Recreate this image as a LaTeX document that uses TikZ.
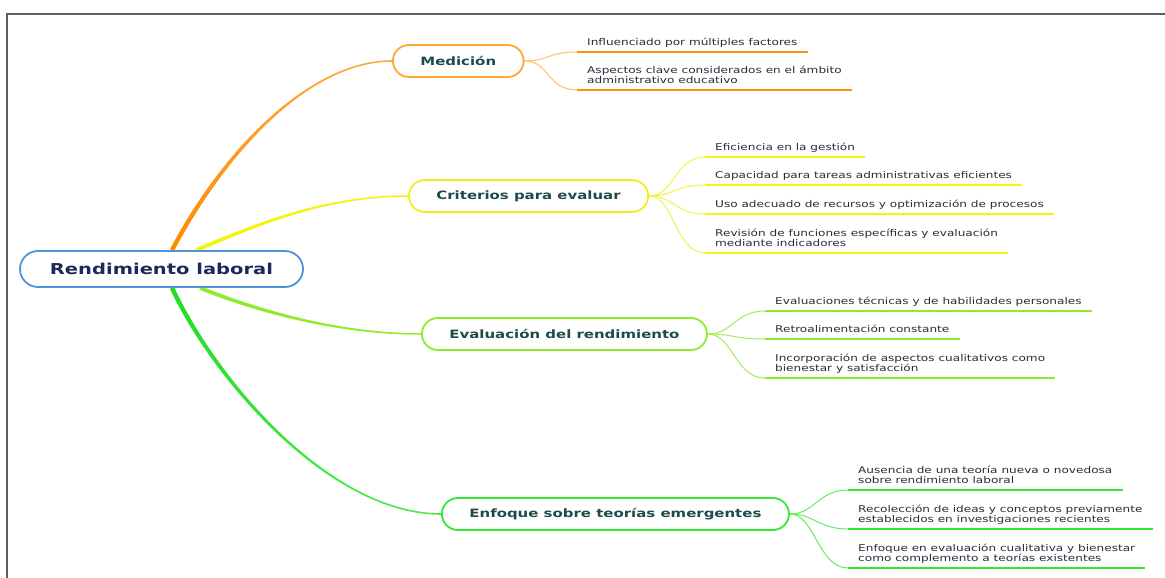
\documentclass[tikz,border=0pt]{standalone}
\usepackage{fontspec}
\setmainfont{DejaVu Sans}
\usepackage{graphicx}
\usetikzlibrary{calc}
\pgfdeclarelayer{bg}
\pgfsetlayers{bg,main}

\definecolor{frameGray}{HTML}{5F5F5F}
\definecolor{rootBlue}{HTML}{4D94D6}
\definecolor{rootInk}{HTML}{1B2A5C}
\definecolor{topicInk}{HTML}{1E4A4A}
\definecolor{leafInk}{HTML}{2C2A38}
\definecolor{orDeep}{HTML}{FF8A00}
\definecolor{orPale}{HTML}{FFA942}
\definecolor{orEdge}{HTML}{FFA733}
\definecolor{orTwig}{HTML}{FFBE62}
\definecolor{yeMain}{HTML}{F4F410}
\definecolor{yeEdge}{HTML}{F0F020}
\definecolor{yeTwig}{HTML}{F2F24A}
\definecolor{liMain}{HTML}{8EEB2E}
\definecolor{liTwig}{HTML}{A2EF55}
\definecolor{grDeep}{HTML}{22DD22}
\definecolor{grPale}{HTML}{48EA48}
\definecolor{grMain}{HTML}{36E836}
\definecolor{grTwig}{HTML}{62EE62}

% horizontally widened lettering
\newcommand\wide[1]{\scalebox{1.3}[1]{#1}}
\newcommand\twolines[2]{\wide{\begin{tabular}[b]{@{}l@{}}#1\\#2\end{tabular}}}

% tapered main branch: #1 paint, #2 start, #3 ctrl 1, #4 ctrl 2, #5 end,
% #6 half-width vector at the start, #7 half-width vector at the end
\newcommand\limb[7]{%
  \path[#1] ($(#2)-(#6)$) .. controls ($(#3)-(#6)$) and ($(#4)-(#7)$) .. ($(#5)-(#7)$)
    -- ($(#5)+(#7)$) .. controls ($(#4)+(#7)$) and ($(#3)+(#6)$) .. ($(#2)+(#6)$) -- cycle;}

\tikzset{
  rootbox/.style={draw=rootBlue, line width=1.8pt, fill=white, rounded corners=18pt,
    minimum height=36pt, inner xsep=30pt, text=rootInk,
    font=\fontsize{15}{18}\selectfont\bfseries},
  topic/.style={draw=#1, line width=1.8pt, fill=white, rounded corners=16pt,
    minimum height=32pt, inner xsep=27.5pt, anchor=west, text=topicInk,
    font=\fontsize{11.5}{14}\selectfont\bfseries},
  leaf/.style={anchor=south west, inner xsep=10pt, inner ysep=6.3pt, text depth=0pt,
    text=leafInk, font=\fontsize{9.3}{10}\selectfont},
  twig/.style={draw=#1, line width=1pt},
  uline/.style={draw=#1, line width=2.3pt},
  frame/.style={draw=frameGray, line width=1.6pt}
}

\begin{document}
\begin{tikzpicture}[x=1pt, y=-1pt]
\useasboundingbox (0,0) rectangle (1165,578);
\draw[frame] (7,578) -- (7,14) -- (1165,14);

% central idea
\node[rootbox] (root) at (161.5,269) {\wide{Rendimiento laboral}};

% topics
\node[topic=orEdge] (m1) at (392,61)  {\wide{Medición}};
\node[topic=yeEdge] (m2) at (408,196) {\wide{Criterios para evaluar}};
\node[topic=liMain] (m3) at (421,334) {\wide{Evaluación del rendimiento}};
\node[topic=grMain] (m4) at (441,514) {\wide{Enfoque sobre teorías emergentes}};

% sub-topics
\node[leaf] (l11) at (577,52)  {\wide{Influenciado por múltiples factores}};
\node[leaf] (l12) at (577,90)  {\twolines{Aspectos clave considerados en el ámbito}{administrativo educativo}};

\node[leaf] (l21) at (705,157) {\wide{Eficiencia en la gestión}};
\node[leaf] (l22) at (705,185) {\wide{Capacidad para tareas administrativas eficientes}};
\node[leaf] (l23) at (705,214) {\wide{Uso adecuado de recursos y optimización de procesos}};
\node[leaf] (l24) at (705,253) {\twolines{Revisión de funciones específicas y evaluación}{mediante indicadores}};

\node[leaf] (l31) at (765,311) {\wide{Evaluaciones técnicas y de habilidades personales}};
\node[leaf] (l32) at (765,339) {\wide{Retroalimentación constante}};
\node[leaf] (l33) at (765,378) {\twolines{Incorporación de aspectos cualitativos como}{bienestar y satisfacción}};

\node[leaf] (l41) at (848,490) {\twolines{Ausencia de una teoría nueva o novedosa}{sobre rendimiento laboral}};
\node[leaf] (l42) at (848,529) {\twolines{Recolección de ideas y conceptos previamente}{establecidos en investigaciones recientes}};
\node[leaf] (l43) at (848,568) {\twolines{Enfoque en evaluación cualitativa y bienestar}{como complemento a teorías existentes}};

\begin{pgfonlayer}{bg}
  % branch roots on the central node
  \coordinate (r1) at ([xshift=10.5pt]root.north);
  \coordinate (r2) at ([xshift=34.5pt]root.north);
  \coordinate (r3) at ([xshift=38.5pt]root.south);
  \coordinate (r4) at ([xshift=10.5pt]root.south);

  \limb{top color=orPale, bottom color=orDeep}{r1}{225,150}{310,61}{m1.west}{1.96,1.0}{0,0.8}
  \limb{fill=yeMain}{r2}{250,228}{320,196}{m2.west}{0.74,1.75}{0,0.75}
  \limb{fill=liMain}{r3}{260,312}{340,334}{m3.west}{-0.72,1.75}{0,0.75}
  \limb{top color=grDeep, bottom color=grPale}{r4}{215,380}{330,514}{m4.west}{-2.0,0.92}{0,0.8}

  % twigs and underlines
  \foreach \t/\c/\u in {m1/orTwig/l11, m1/orTwig/l12,
                        m2/yeTwig/l21, m2/yeTwig/l22, m2/yeTwig/l23, m2/yeTwig/l24,
                        m3/liTwig/l31, m3/liTwig/l32, m3/liTwig/l33,
                        m4/grTwig/l41, m4/grTwig/l42, m4/grTwig/l43}
    \draw[twig=\c] (\t.east) .. controls +(25,0) and +(-30,0) .. (\u.south west);

  \foreach \u in {l11,l12} \draw[uline=orDeep!80!orPale] (\u.south west) -- (\u.south east);
  \foreach \u in {l21,l22,l23,l24} \draw[uline=yeMain] (\u.south west) -- (\u.south east);
  \foreach \u in {l31,l32,l33} \draw[uline=liMain] (\u.south west) -- (\u.south east);
  \foreach \u in {l41,l42,l43} \draw[uline=grMain] (\u.south west) -- (\u.south east);
\end{pgfonlayer}
\end{tikzpicture}
\end{document}
